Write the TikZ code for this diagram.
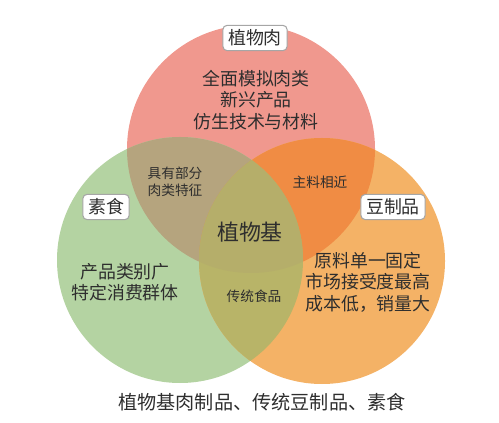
\documentclass[tikz,border=0pt]{standalone}
\usepackage{fontspec}
\setmainfont{Noto Sans CJK SC}
\usepackage{tikz}
\usepackage{xcolor}

\definecolor{redfill}{HTML}{F0988E}
\definecolor{greenfill}{HTML}{B4D3A2}
\definecolor{orangefill}{HTML}{F4B266}
\definecolor{rgfill}{HTML}{B5A47E}
\definecolor{rofill}{HTML}{F08C44}
\definecolor{gofill}{HTML}{B8B468}
\definecolor{centerfill}{HTML}{B5AE6A}
\definecolor{textgray}{HTML}{2E2E2E}

\newcommand{\redcirc}{(251,273) circle [radius=124]}
\newcommand{\greencirc}{(180,162) circle [radius=123]}
\newcommand{\orangecirc}{(322,161) circle [radius=123]}

\tikzset{
  labelbox/.style={draw=gray!70, fill=white, rounded corners=2.5pt, line width=0.6pt,
    inner xsep=3pt, inner ysep=2.5pt, text=textgray, font=\fontsize{10.2}{12}\selectfont},
  maintext/.style={text=textgray, align=center, font=\fontsize{10.2}{12.2}\selectfont},
  smalltext/.style={text=textgray, align=center, font=\fontsize{7.8}{9.6}\selectfont}
}

\begin{document}
\begin{tikzpicture}[x=0.02cm,y=0.02cm]
\useasboundingbox (0,0) rectangle (499,422);

% the three circles
\fill[redfill] \redcirc;
\fill[greenfill] \greencirc;
\fill[orangefill] \orangecirc;

% the overlaps
\begin{scope}
\clip \redcirc;
\fill[rgfill] \greencirc;
\fill[rofill] \orangecirc;
\end{scope}
\begin{scope}
\clip \greencirc;
\fill[gofill] \orangecirc;
\clip \redcirc;
\fill[centerfill] \orangecirc;
\end{scope}

\node[labelbox] (meat) at (255,384) {植物肉};
\node[labelbox] (veg) at (106,215) {素食};
\node[labelbox] (soy) at (393,215) {豆制品};

\node[maintext] (meattext) at (256,322) {全面模拟肉类\\新兴产品\\仿生技术与材料};
\node[maintext] (vegtext) at (125,140) {产品类别广\\特定消费群体};
\node[maintext] (soytext) at (368,140) {原料单一固定\\市场接受度最高\\成本低，销量大};

\node[smalltext] (rg) at (175,240) {具有部分\\肉类特征};
\node[smalltext] (ro) at (320,240) {主料相近};
\node[smalltext] (go) at (254,126) {传统食品};

\node[text=textgray, font=\fontsize{12.5}{14}\selectfont] (base) at (250,190) {植物基};

\node[text=textgray, font=\fontsize{10.9}{13}\selectfont] (sum) at (262,20) {植物基肉制品、传统豆制品、素食};

\end{tikzpicture}
\end{document}
